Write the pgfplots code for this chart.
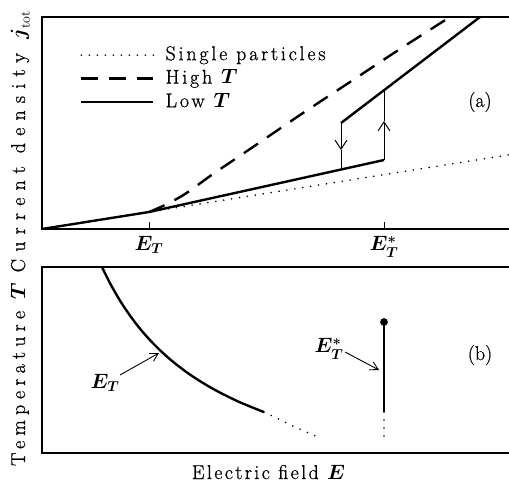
\documentclass[border=0pt]{standalone}
\usepackage{amsmath}
\usepackage{fontspec}
\setmainfont{Latin Modern Roman}
\newfontfamily\lab{Latin Modern Roman}[FakeBold=0.8]
\newfontfamily\labx{Latin Modern Roman}[LetterSpace=12,FakeBold=0.8]
\newfontfamily\labl{Latin Modern Roman}[LetterSpace=14,FakeBold=0.8]
\newfontfamily\laby{Latin Modern Roman}[LetterSpace=36,FakeBold=0.8]
\newfontfamily\labyb{Latin Modern Roman}[LetterSpace=26,FakeBold=0.8]
\usepackage{pgfplots}
\pgfplotsset{compat=1.18}
\usetikzlibrary{arrows.meta}
\newcommand{\bigf}{\fontsize{20}{24}\selectfont}
\begin{document}
\begin{tikzpicture}
\path[use as bounding box] (0pt,0pt) rectangle (509pt,-483pt);
\pgfplotsset{
  myax/.style={
    scale only axis, width=472pt,
    xmin=42, xmax=514,
    axis line style={line width=1.4pt},
    ytick=\empty,
    tick align=inside, xtick pos=left,
    major tick length=7pt,
    tick style={line width=0.8pt,black},
  },
  dotline/.style={black, line width=1.8pt, line cap=round, dash pattern=on 0pt off 8pt},
  dashline/.style={black, line width=2.4pt, dash pattern=on 17pt off 11pt},
  solidline/.style={black, line width=2.4pt},
  thinline/.style={black, line width=1pt},
}
\begin{axis}[myax, at={(42pt,-17pt)}, anchor=north west, height=212pt,
  ymin=-229, ymax=-17,
  xtick={149,384},
  xticklabels={$\boldsymbol{E_T}$,$\boldsymbol{E_T^*}$},
  xticklabel style={font=\bigf, yshift=-4pt},
  ylabel={Current density $\boldsymbol{j}_{\mathrm{tot}}$},
  ylabel style={font=\bigf\laby, at={(axis description cs:-0.036,0.4127)}, anchor=base, xshift=0pt, yshift=0pt},
  legend style={at={(axis description cs:0.0805,0.868)}, anchor=north west, draw=none, fill=none,
    font=\bigf\labl, row sep=3.5pt, inner sep=0pt,
    nodes={inner sep=1pt, text height=14pt, text depth=4pt}},
  legend cell align=left,
  legend image code/.code={\draw[#1] (0pt,0pt) -- (72pt,0pt);},
]
\addplot[dotline] coordinates {(42,-229) (514,-154)};
\addlegendentry{\hspace*{10pt}Single particles}
\addplot[dashline, smooth] coordinates {(149,-212) (165,-205) (185,-194) (213,-174) (250,-149) (300,-115) (350,-82) (400,-49) (450,-17)};
\addlegendentry{\hspace*{10pt}High $\boldsymbol{T}$}
\addplot[solidline] coordinates {(42,-229) (149,-212) (384,-160)};
\addlegendentry{\hspace*{10pt}Low $\boldsymbol{T}$}
\addplot[solidline, forget plot] coordinates {(341,-123) (480,-17)};
\addplot[thinline, -{Straight Barb[length=9pt,width=12pt]}, forget plot] coordinates {(341,-123) (341,-150)};
\addplot[thinline, forget plot] coordinates {(341,-150) (341,-170)};
\addplot[thinline, -{Straight Barb[length=9pt,width=12pt]}, forget plot] coordinates {(384,-160) (384,-121)};
\addplot[thinline, forget plot] coordinates {(384,-121) (384,-91)};
\node[font=\bigf\lab] at (axis cs:480,-102) {(a)};
\end{axis}
\begin{axis}[myax, at={(42pt,-267pt)}, anchor=north west, height=186pt,
  ymin=-453, ymax=-267,
  xtick=\empty,
  xlabel={Electric field $\boldsymbol{E}$},
  xlabel style={font=\bigf\labx, at={(axis description cs:0.48,-0.1398)}, anchor=base, xshift=0pt, yshift=0pt},
  ylabel={Temperature $\boldsymbol{T}$},
  ylabel style={font=\bigf\labyb, at={(axis description cs:-0.036,0.422)}, anchor=base, xshift=0pt, yshift=0pt},
]
\addplot[solidline, smooth] coordinates {(102,-267) (110,-283.2) (120,-300.6) (130,-315.6) (140,-328.7) (150,-340.1) (162,-352.1) (175,-363.4) (190,-374.6) (205,-384.2) (220,-392.6) (240,-402.3) (264,-412.1)};
\addplot[dotline] coordinates {(264,-412) (293,-426) (322,-439)};
\addplot[solidline] coordinates {(384,-322) (384,-412)};
\addplot[dotline] coordinates {(384,-412) (384,-442)};
\addplot[only marks, mark=*, mark size=3.6pt, black] coordinates {(384,-322)};
\draw[black, line width=0.9pt, -{Straight Barb[length=8pt,width=9pt]}] (axis cs:120,-375) -- (axis cs:159,-353);
\node[font=\bigf] at (axis cs:105,-383) {$\boldsymbol{E_T}$};
\draw[black, line width=0.9pt, -{Straight Barb[length=8pt,width=9pt]}] (axis cs:345,-352) -- (axis cs:379,-370);
\node[font=\bigf] at (axis cs:329,-349) {$\boldsymbol{E_T^*}$};
\node[font=\bigf\lab] at (axis cs:480,-355) {(b)};
\end{axis}
\end{tikzpicture}
\end{document}
